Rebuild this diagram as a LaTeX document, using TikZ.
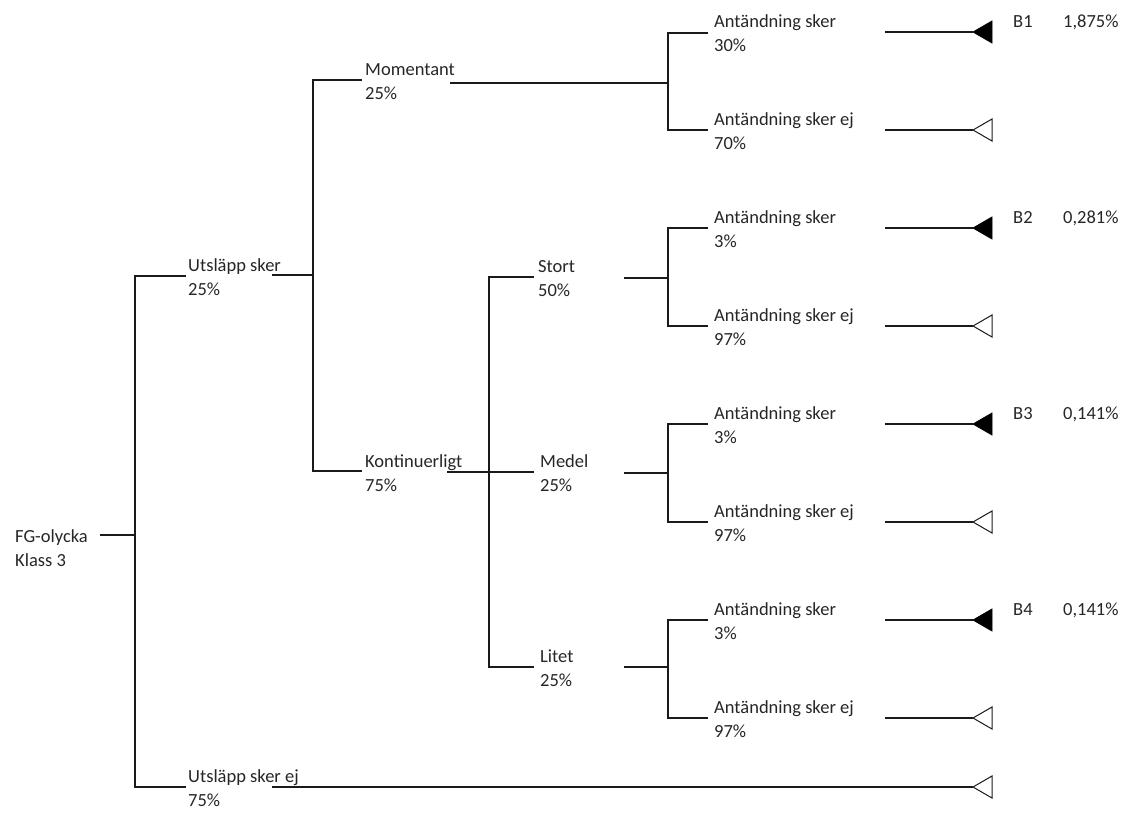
\documentclass[tikz,border=0pt]{standalone}
\usepackage{fontspec}
\setmainfont{Carlito}
\definecolor{txt}{HTML}{262626}
\definecolor{lc}{HTML}{1A1A1A}
\tikzset{
  lbl/.style={anchor=base west, inner sep=0pt, align=left, font=\fontsize{18.5}{24}\selectfont, text=txt},
  ln/.style={draw=lc, line width=1.3pt},
  filltri/.style={fill=black, draw=black, line width=0.8pt},
  opentri/.style={draw=lc, fill=white, line width=1pt}
}
\begin{document}
\begin{tikzpicture}[x=1pt,y=-1pt]
\useasboundingbox (0,0) rectangle (1130,812);

% labels (anchor = baseline of the second line)
\node[lbl] (root) at (15,566) {FG-olycka\\Klass 3};
\node[lbl] (us) at (188,295) {Utsläpp sker\\25\%};
\node[lbl] (use) at (188,806) {Utsläpp sker ej\\75\%};
\node[lbl] (mom) at (365,99) {Momentant\\25\%};
\node[lbl] (kon) at (365,491) {Kontinuerligt\\75\%};
\node[lbl] (sto) at (538,296) {Stort\\50\%};
\node[lbl] (med) at (540,491) {Medel\\25\%};
\node[lbl] (lit) at (540,686) {Litet\\25\%};

\node[lbl] (a1) at (714,51) {Antändning sker\\30\%};
\node[lbl] (b1) at (714,149) {Antändning sker ej\\70\%};
\node[lbl] (a2) at (714,247) {Antändning sker\\3\%};
\node[lbl] (b2) at (714,345) {Antändning sker ej\\97\%};
\node[lbl] (a3) at (714,443) {Antändning sker\\3\%};
\node[lbl] (b3) at (714,541) {Antändning sker ej\\97\%};
\node[lbl] (a4) at (714,639) {Antändning sker\\3\%};
\node[lbl] (b4) at (714,737) {Antändning sker ej\\97\%};

\node[lbl] (B1) at (1013,27) {B1};
\node[lbl] (B2) at (1013,223) {B2};
\node[lbl] (B3) at (1013,419) {B3};
\node[lbl] (B4) at (1013,615) {B4};
\node[lbl] (p1) at (1063,27) {1,875\%};
\node[lbl] (p2) at (1063,223) {0,281\%};
\node[lbl] (p3) at (1063,419) {0,141\%};
\node[lbl] (p4) at (1063,615) {0,141\%};

% level 0
\coordinate (r0) at (100,535);
\coordinate (r1) at (135,535);
\coordinate (r1t) at (135,276);
\coordinate (r1b) at (135,787);
\coordinate (usin) at (186,276);
\coordinate (usein) at (186,787);
\draw[ln] (r0) -- (r1);
\draw[ln] (usin) -- (r1t) -- (r1b) -- (usein);

% Utsläpp sker
\coordinate (usout) at (272,275);
\coordinate (j1) at (313,275);
\coordinate (j1t) at (313,80);
\coordinate (j1b) at (313,471);
\coordinate (momin) at (362,80);
\coordinate (konin) at (362,471);
\draw[ln] (usout) -- (j1);
\draw[ln] (momin) -- (j1t) -- (j1b) -- (konin);

% Momentant
\coordinate (momout) at (450,83);
\coordinate (j2) at (668,83);
\coordinate (j2t) at (668,33);
\coordinate (j2b) at (668,130);
\coordinate (a1in) at (708,33);
\coordinate (b1in) at (708,130);
\draw[ln] (momout) -- (j2);
\draw[ln] (a1in) -- (j2t) -- (j2b) -- (b1in);

% Kontinuerligt
\coordinate (konout) at (447,472);
\coordinate (j3) at (489,472);
\coordinate (j3t) at (489,277);
\coordinate (j3b) at (489,667);
\coordinate (stoin) at (534,277);
\coordinate (medin) at (534,472);
\coordinate (litin) at (534,667);
\draw[ln] (konout) -- (medin);
\draw[ln] (stoin) -- (j3t) -- (j3b) -- (litin);

% Stort
\coordinate (stoout) at (624,278);
\coordinate (j4) at (668,278);
\coordinate (j4t) at (668,228);
\coordinate (j4b) at (668,326);
\coordinate (a2in) at (708,228);
\coordinate (b2in) at (708,326);
\draw[ln] (stoout) -- (j4);
\draw[ln] (a2in) -- (j4t) -- (j4b) -- (b2in);

% Medel
\coordinate (medout) at (624,473);
\coordinate (j5) at (668,473);
\coordinate (j5t) at (668,424);
\coordinate (j5b) at (668,522);
\coordinate (a3in) at (708,424);
\coordinate (b3in) at (708,522);
\draw[ln] (medout) -- (j5);
\draw[ln] (a3in) -- (j5t) -- (j5b) -- (b3in);

% Litet
\coordinate (litout) at (624,667);
\coordinate (j6) at (668,667);
\coordinate (j6t) at (668,620);
\coordinate (j6b) at (668,718);
\coordinate (a4in) at (708,620);
\coordinate (b4in) at (708,718);
\draw[ln] (litout) -- (j6);
\draw[ln] (a4in) -- (j6t) -- (j6b) -- (b4in);

% end lines and triangles
\foreach \n/\y/\s in {ea1/32/filltri, eb1/130/opentri, ea2/228/filltri, eb2/326/opentri, ea3/424/filltri, eb3/522/opentri, ea4/620/filltri, eb4/718/opentri}{
  \coordinate (\n s) at (885,\y);
  \coordinate (\n) at (973,\y);
  \draw[ln] (\n s) -- (\n);
  \draw[\s] (\n) -- ++(19,-11) -- ++(0,22) -- cycle;
}
\coordinate (useout) at (272,787);
\coordinate (eu) at (973,787);
\draw[ln] (useout) -- (eu);
\draw[opentri] (eu) -- ++(19,-11) -- ++(0,22) -- cycle;

\end{tikzpicture}
\end{document}
